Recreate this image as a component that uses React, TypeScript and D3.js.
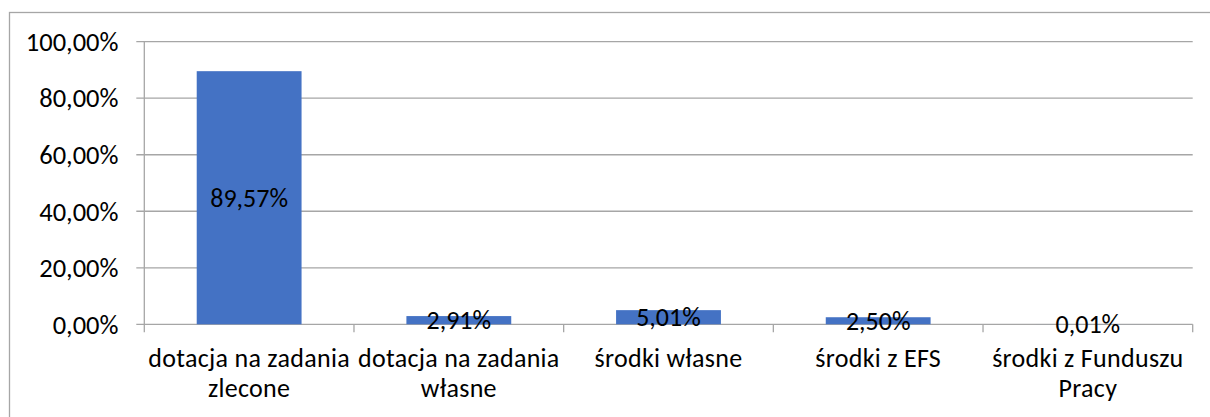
import React from "react";
import * as d3 from "d3";

const categories: string[][] = [
  ["dotacja na zadania", "zlecone"],
  ["dotacja na zadania", "własne"],
  ["środki własne"],
  ["środki z EFS"],
  ["środki z Funduszu", "Pracy"],
];
const values: number[] = [89.57, 2.91, 5.01, 2.5, 0.01];
const yTicks: number[] = [0, 20, 40, 60, 80, 100];

const W = 1210;
const H = 417;
const FONT = "Carlito, Calibri, serif";
const fmt = (v: number) => v.toFixed(2).replace(".", ",") + "%";

export default function App() {
  const left = 144.3;
  const right = 1192.7;
  const top = 41.7;
  const bottom = 324.3;
  const x = d3
    .scaleBand<number>()
    .domain(values.map((_, i) => i))
    .range([left, right])
    .paddingInner(0.5)
    .paddingOuter(0.25);
  const y = d3.scaleLinear().domain([0, 100]).range([bottom, top]);
  const step = x.step();
  const grid = "#a6a6a6";

  return (
    <svg
      width={W}
      height={H}
      style={{ position: "absolute", left: 0, top: 0, display: "block" }}
    >
      <rect x={0} y={0} width={W} height={H} fill="#fff" />
      <rect x={9.5} y={12.5} width={W + 20} height={H + 20} fill="none" stroke="#a6a6a6" strokeWidth={1.3} />
      {yTicks.map((t) => (
        <g key={t}>
          <line x1={left - 8} x2={right} y1={y(t)} y2={y(t)} stroke={grid} strokeWidth={1.3} />
          <text
            x={118.5}
            y={y(t)}
            dy="0.35em"
            textAnchor="end"
            fontFamily={FONT}
            fontSize={26.5}
            fill="#000"
          >
            {fmt(t)}
          </text>
        </g>
      ))}
      <line x1={left} x2={left} y1={top} y2={bottom} stroke={grid} strokeWidth={1.3} />
      {d3.range(values.length + 1).map((i) => (
        <line
          key={i}
          x1={left + i * step}
          x2={left + i * step}
          y1={bottom}
          y2={bottom + 8}
          stroke={grid}
          strokeWidth={1.3}
        />
      ))}
      {values.map((v, i) => (
        <rect
          key={i}
          x={x(i)!}
          y={y(v)}
          width={x.bandwidth()}
          height={bottom - y(v)}
          fill="#4472C4"
        />
      ))}
      {values.map((v, i) => (
        <text
          key={i}
          x={x(i)! + x.bandwidth() / 2}
          y={(y(v) + bottom) / 2}
          dy="0.35em"
          textAnchor="middle"
          fontFamily={FONT}
          fontSize={26}
          fill="#000"
        >
          {fmt(v)}
        </text>
      ))}
      {categories.map((lines, i) => (
        <text
          key={i}
          x={x(i)! + x.bandwidth() / 2}
          y={367.3}
          textAnchor="middle"
          fontFamily={FONT}
          fontSize={26}
          letterSpacing={0.3}
          fill="#000"
        >
          {lines.map((l, j) => (
            <tspan key={j} x={x(i)! + x.bandwidth() / 2} dy={j === 0 ? 0 : 30}>
              {l}
            </tspan>
          ))}
        </text>
      ))}
    </svg>
  );
}
